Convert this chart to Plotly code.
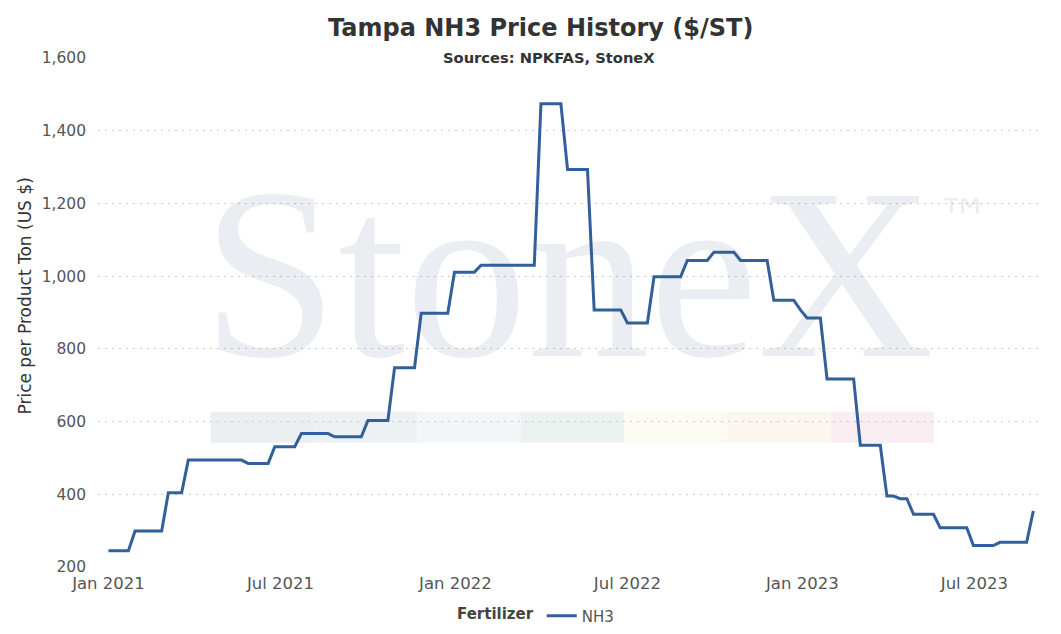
import pandas as pd
import plotly.graph_objects as go

# Weekly observations (Fridays) starting 2021-01-01
start_date = "2021-01-01"
n_weeks = 140
dates = pd.date_range(start=start_date, periods=n_weeks, freq="7D")

# Tampa NH3 price, $/short ton, one value per week
nh3_price = [
    245, 245, 245, 245,
    299, 299, 299, 299, 299,
    404, 404, 404,
    494, 494, 494, 494, 494, 494, 494, 494, 494,
    485, 485, 485, 485,
    531, 531, 531, 531,
    567, 567, 567, 567, 567,
    558, 558, 558, 558, 558,
    603, 603, 603, 603,
    748, 748, 748, 748,
    898, 898, 898, 898, 898,
    1011, 1011, 1011, 1011,
    1030, 1030, 1030, 1030, 1030, 1030, 1030, 1030, 1030,
    1474, 1474, 1474, 1474,
    1293, 1293, 1293, 1293,
    907, 907, 907, 907, 907,
    871, 871, 871, 871,
    998, 998, 998, 998, 998,
    1043, 1043, 1043, 1043,
    1066, 1066, 1066, 1066,
    1043, 1043, 1043, 1043, 1043,
    934, 934, 934, 934,
    907,
    885, 885, 885,
    717, 717, 717, 717, 717,
    535, 535, 535, 535,
    395, 395,
    388, 388,
    345, 345, 345, 345,
    308, 308, 308, 308, 308,
    259, 259, 259, 259,
    268, 268, 268, 268, 268,
    354,
]

series_name = "NH3"
legend_title = "Fertilizer"
title_text = "Tampa NH3 Price History ($/ST)"
subtitle_text = "Sources: NPKFAS, StoneX"
y_title = "Price per Product Ton (US $)"

FONT = "DejaVu Sans"
LINE_COLOR = "#32609a"

fig = go.Figure()
fig.add_trace(go.Scatter(
    x=dates, y=nh3_price, mode="lines", name=series_name,
    line=dict(color=LINE_COLOR, width=3),
))

# watermark colour band (logo stripes), below grid
band_colors = ["#eceff2", "#edf1f4", "#f2f6f9", "#ecf2f0", "#fbfbf2", "#fbf7ee", "#f8edf0"]
W, H = 1061, 634
ml, mr, mt, mb = 98, 22, 58, 67
pw, ph = W - ml - mr, H - mt - mb

def px_x(v):
    return (v - ml) / pw

def px_y(v):
    return (H - mb - v) / ph

shapes = []
seg_w = 103.3
for i, c in enumerate(band_colors):
    x0 = 210.7 + i * seg_w
    shapes.append(dict(type="rect", xref="paper", yref="paper",
                       x0=px_x(x0), x1=px_x(x0 + seg_w),
                       y0=px_y(442.7), y1=px_y(411.7),
                       fillcolor=c, line=dict(width=0), layer="below"))

annotations = [
    dict(text="StoneX", xref="paper", yref="paper", x=px_x(568), y=px_y(274),
         xanchor="center", yanchor="middle", showarrow=False,
         font=dict(family="Liberation Serif", size=244, color="rgba(45,85,125,0.1)")),
    dict(text="™", xref="paper", yref="paper", x=px_x(963), y=px_y(218),
         xanchor="center", yanchor="middle", showarrow=False,
         font=dict(family=FONT, size=53, color="rgba(45,85,125,0.1)")),
    dict(text="<b>" + title_text + "</b>", xref="paper", yref="paper",
         x=px_x(540), y=px_y(28), xanchor="center", yanchor="middle", showarrow=False,
         font=dict(family=FONT, size=24, color="#333333")),
    dict(text="<b>" + subtitle_text + "</b>", xref="paper", yref="paper",
         x=px_x(549), y=px_y(57), xanchor="center", yanchor="middle", showarrow=False,
         bgcolor="white", font=dict(family=FONT, size=14.7, color="#333333")),
    dict(text=y_title, xref="paper", yref="paper", x=px_x(24), y=px_y(296.5),
         xanchor="center", yanchor="middle", textangle=-90, showarrow=False,
         font=dict(family=FONT, size=17, color="#333333")),
]

fig.update_layout(
    width=W, height=H, autosize=False,
    margin=dict(l=ml, r=mr, t=mt, b=mb, autoexpand=False),
    paper_bgcolor="white", plot_bgcolor="white",
    font=dict(family=FONT, color="#555555"),
    shapes=shapes, annotations=annotations,
    showlegend=True,
    legend=dict(orientation="h", x=px_x(537), xanchor="center", y=px_y(616), yanchor="middle",
                title=dict(text="<b>" + legend_title + "</b>", side="left",
                           font=dict(size=15, color="#444444")),
                font=dict(size=15, color="#555555")),
)
fig.update_xaxes(
    type="date", range=["2020-12-21", "2023-09-07"],
    tick0="2021-01-01", dtick="M6", tickformat="%b %Y",
    showgrid=False, zeroline=False, showline=False, ticks="",
    tickfont=dict(size=16.5, color="#555555"), ticklabelstandoff=4,
)
fig.update_yaxes(
    range=[200, 1600], dtick=200, tickformat=",d",
    showgrid=True, gridcolor="#cccccc", gridwidth=1, griddash="2px,5px",
    zeroline=False, showline=False, ticks="",
    tickfont=dict(size=15.5, color="#555555"), ticklabelstandoff=11,
)

fig.write_html("out.html", config={"displayModeBar": False},
               post_script="document.body.style.margin='0';document.body.style.padding='0';")
